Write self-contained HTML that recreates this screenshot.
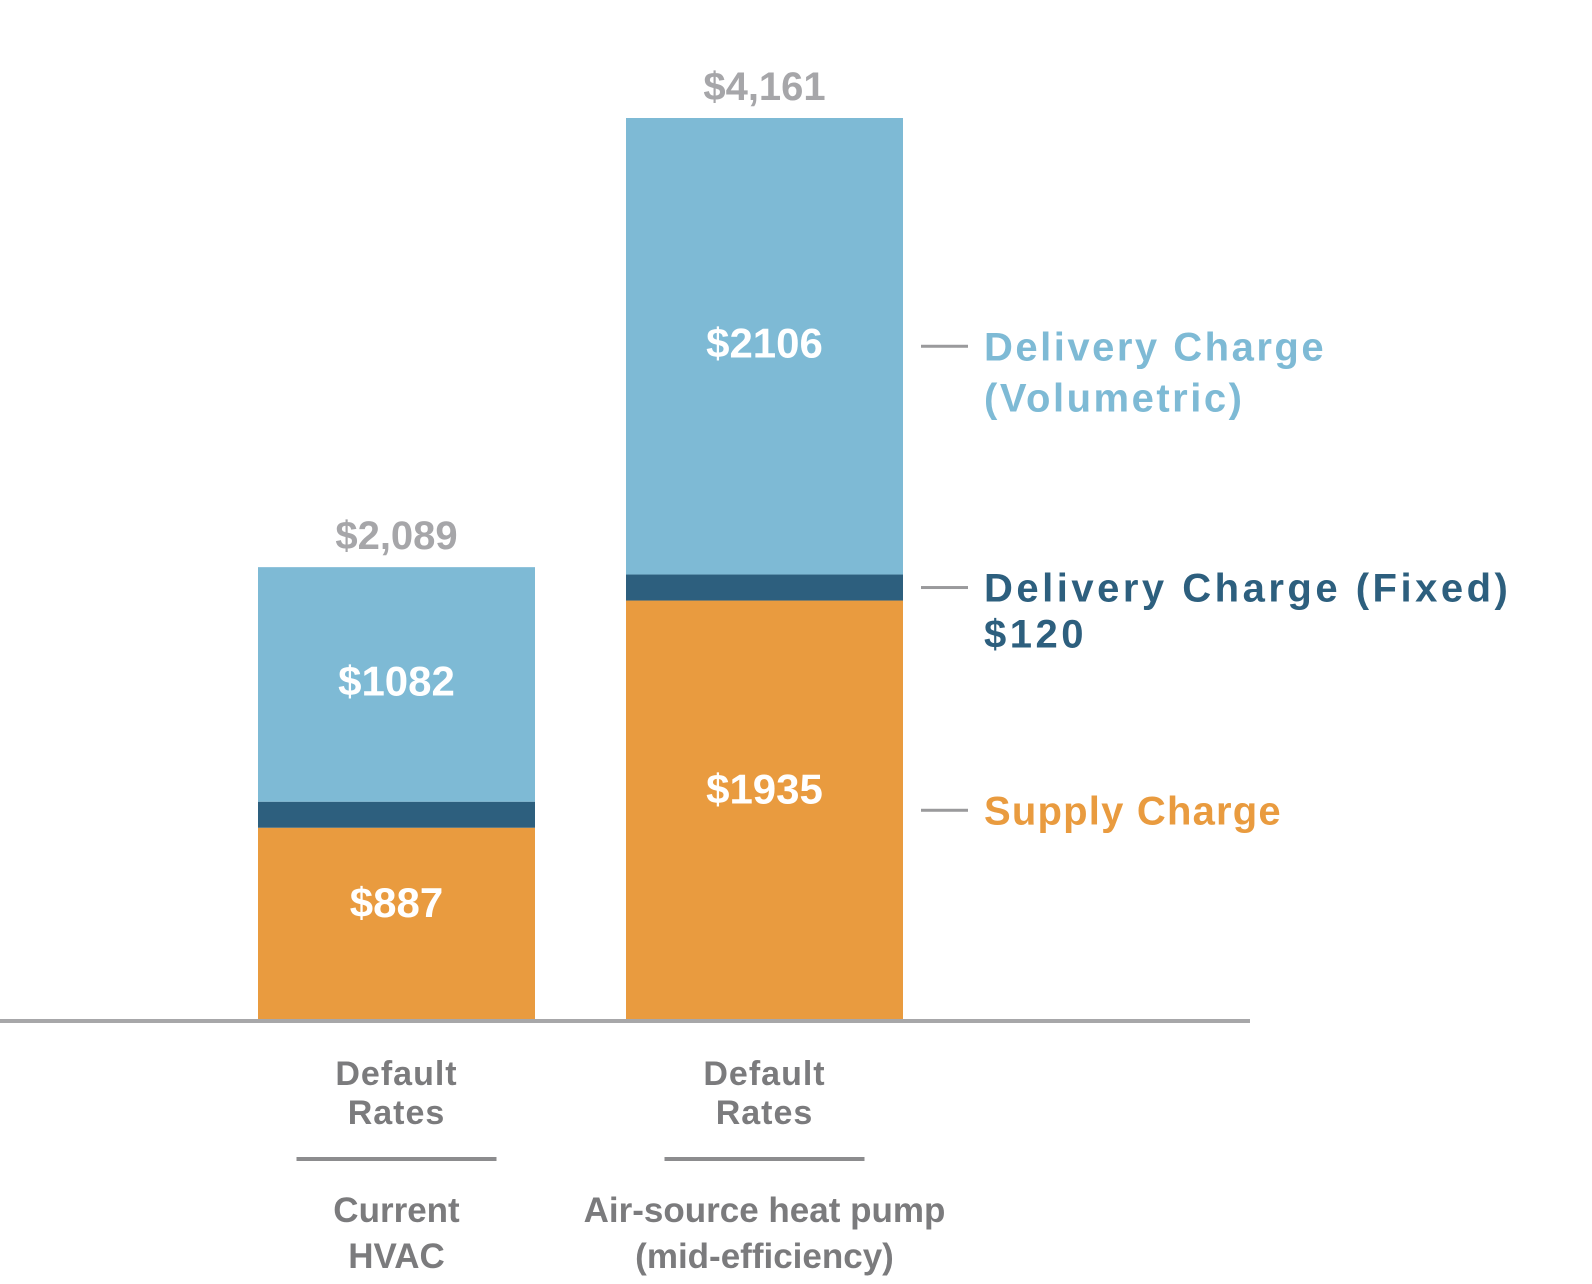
<!DOCTYPE html>
<html><head><meta charset="utf-8"><style>
html,body{margin:0;padding:0;background:#fff;}
svg{display:block;font-family:"Liberation Sans",sans-serif;font-weight:bold;}
</style></head><body>
<svg id="chart" width="1592" height="1284" viewBox="0 0 1592 1284" xmlns="http://www.w3.org/2000/svg"></svg>
<script>
const categories = ["Current HVAC", "Air-source heat pump (mid-efficiency)"];
const supply = [887, 1935];
const fixed = [120, 120];
const volumetric = [1082, 2106];
const totals = ["$2,089", "$4,161"];

const NS = "http://www.w3.org/2000/svg";
const svg = document.getElementById("chart");
const baseY = 1020, topY = 118;
const maxV = supply[1] + fixed[1] + volumetric[1];
const yScale = v => v * (baseY - topY) / maxV;
const barX = i => 258 + i * 368;
const barW = 277;
const colors = { supply: "#e99b3f", fixed: "#2d5f7e", vol: "#7ebad5" };
const labelShift = { supply: -22, vol: -4 };

function el(tag, attrs, text) {
  const e = document.createElementNS(NS, tag);
  for (const k in attrs) e.setAttribute(k, attrs[k]);
  if (text !== undefined) e.textContent = text;
  svg.appendChild(e);
  return e;
}

categories.forEach((c, i) => {
  const x = barX(i), cx = x + barW / 2;
  let y = baseY;
  const segs = [["supply", supply[i]], ["fixed", fixed[i]], ["vol", volumetric[i]]];
  segs.forEach(([k, v]) => {
    const h = yScale(v);
    y -= h;
    const r = el("rect", { x: x, y: y, width: barW, height: h, fill: colors[k] });
    
    
    if (k !== "fixed") {
      const t = el("text", { x: cx, y: y + h / 2 + 15 + labelShift[k], "text-anchor": "middle", fill: "#fff", "font-size": 42 }, "$" + v);
      
      
    }
  });
  const tt = el("text", { x: cx, y: y - 18, "text-anchor": "middle", fill: "#a6a6a9", "font-size": 40 }, totals[i]);
  
  
  const d1 = el("text", { x: cx, y: 1085, "text-anchor": "middle", fill: "#7b7b7d", "font-size": 34, "letter-spacing": 1 }, "Default");
  
  
  const d2 = el("text", { x: cx, y: 1124, "text-anchor": "middle", fill: "#7b7b7d", "font-size": 34, "letter-spacing": 1 }, "Rates");
  
  
  const sep = el("rect", { x: cx - 100, y: 1157, width: 200, height: 4, fill: "#8c8c8e" });
  
  
  const lines = i === 0 ? ["Current", "HVAC"] : ["Air-source heat pump", "(mid-efficiency)"];
  lines.forEach((l, j) => {
    const t = el("text", { x: cx, y: 1222 + j * 46, "text-anchor": "middle", fill: "#7b7b7d", "font-size": 35 }, l);
    
    
  });
});

const axis = el("rect", { x: 0, y: baseY - 1, width: 1250, height: 4, fill: "#a7a7a9" });



const volC = baseY - yScale(supply[1] + fixed[1]) - yScale(volumetric[1]) / 2;
const fixC = baseY - yScale(supply[1]) - yScale(fixed[1]) / 2;
const supC = baseY - yScale(supply[1]) / 2;
const legend = [
  [volC, colors.vol, ["Delivery Charge", "(Volumetric)"], 51, 2.5],
  [fixC, colors.fixed, ["Delivery Charge (Fixed)", "$" + fixed[1]], 46, 3.5],
  [supC, colors.supply, ["Supply Charge"], 0, 1.2]
];
legend.forEach(([cy, col, txt, gap, ls], i) => {
  const ln = el("rect", { x: 921, y: cy - 1.5, width: 47, height: 3, fill: "#9a9a9c" });
  
  
  txt.forEach((t, j) => {
    const e = el("text", { x: 984, y: cy + 14 + j * gap, fill: col, "font-size": 40, "letter-spacing": ls }, t);
    
    
  });
});
</script>
</body></html>
